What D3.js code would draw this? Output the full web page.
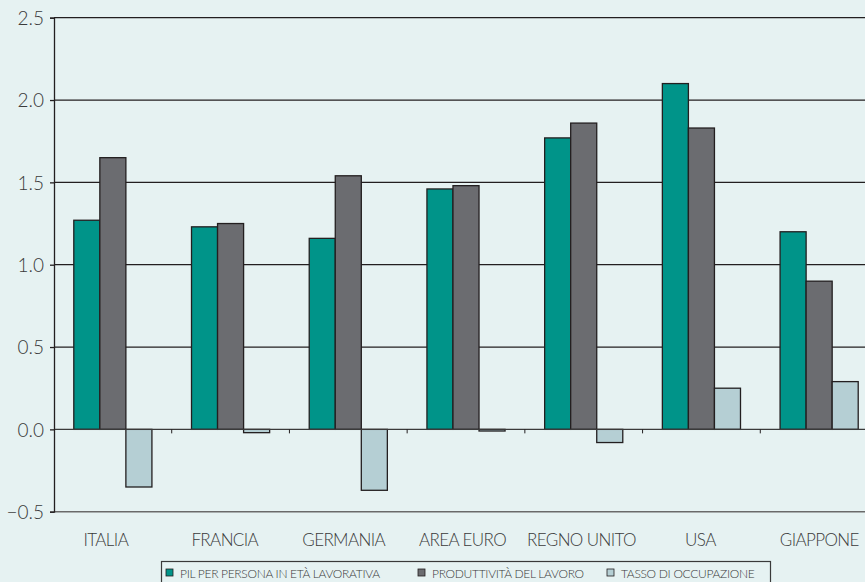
<!DOCTYPE html>
<html>
<head>
<meta charset="utf-8">
<script src="https://cdn.jsdelivr.net/npm/d3@7"></script>
<style>
  html, body { margin: 0; padding: 0; background: #e6f2f2; }
  svg { display: block; }
  text { font-family: Lato, "Open Sans", sans-serif; font-weight: 300; fill: #3a3a3a; }
</style>
</head>
<body>
<svg id="chart" width="865" height="582"></svg>
<script>
// Data
const countries = ['ITALIA', 'FRANCIA', 'GERMANIA', 'AREA EURO', 'REGNO UNITO', 'USA', 'GIAPPONE'];
const seriesNames = ['PIL PER PERSONA IN ETÀ LAVORATIVA', 'PRODUTTIVITÀ DEL LAVORO', 'TASSO DI OCCUPAZIONE'];
const pil = [1.27, 1.23, 1.16, 1.46, 1.77, 2.10, 1.20];
const produttivita = [1.65, 1.25, 1.54, 1.48, 1.86, 1.83, 0.90];
const occupazione = [-0.35, -0.02, -0.37, -0.01, -0.08, 0.25, 0.29];
const yTicks = [-0.5, 0.0, 0.5, 1.0, 1.5, 2.0, 2.5];

// Styles
const colors = ['#009489', '#6b6c70', '#b5cfd4'];
const ink = '#231f20';

const svg = d3.select('#chart');
const values = [pil, produttivita, occupazione];

const x0 = d3.scaleBand().domain(countries).range([54, 878]).padding(0);
const x1 = d3.scaleBand().domain(d3.range(seriesNames.length))
    .range([0, x0.bandwidth()]).paddingInner(0).paddingOuter(0.76);
const y = d3.scaleLinear().domain([-0.5, 2.5]).range([511.7, 17.7]);

// gridlines
svg.append('g')
    .selectAll('line')
    .data(yTicks.filter(d => d > 0))
    .join('line')
    .attr('x1', 54).attr('x2', 865)
    .attr('y1', d => y(d)).attr('y2', d => y(d))
    .attr('stroke', ink).attr('stroke-width', 1.3);

// bars
const groups = svg.append('g')
    .selectAll('g')
    .data(countries)
    .join('g')
    .attr('transform', d => `translate(${x0(d)},0)`);

groups.selectAll('rect')
    .data((c, i) => values.map((s, k) => ({ k, v: s[i] })))
    .join('rect')
    .attr('x', d => x1(d.k))
    .attr('width', x1.bandwidth())
    .attr('y', d => y(Math.max(0, d.v)))
    .attr('height', d => Math.abs(y(d.v) - y(0)))
    .attr('fill', d => colors[d.k])
    .attr('stroke', ink)
    .attr('stroke-width', 1.3);

// zero line and category ticks
svg.append('line')
    .attr('x1', 54).attr('x2', 865)
    .attr('y1', y(0)).attr('y2', y(0))
    .attr('stroke', '#3a3a3a').attr('stroke-width', 1.3);

svg.append('g')
    .selectAll('line')
    .data(countries.slice(1))
    .join('line')
    .attr('x1', d => x0(d)).attr('x2', d => x0(d))
    .attr('y1', y(0)).attr('y2', y(0) + 4)
    .attr('stroke', ink).attr('stroke-width', 1);

// bottom line
svg.append('line')
    .attr('x1', 54).attr('x2', 865)
    .attr('y1', y(-0.5)).attr('y2', y(-0.5))
    .attr('stroke', '#6a6a6a').attr('stroke-width', 1.6);

// y axis
const yAxis = svg.append('g')
    .attr('transform', 'translate(54,0)')
    .call(d3.axisLeft(y).tickValues(yTicks).tickFormat(d3.format('.1f')).tickSize(4).tickPadding(6));
yAxis.select('.domain').attr('stroke', ink).attr('stroke-width', 1.3);
yAxis.selectAll('.tick line').attr('stroke', ink).attr('stroke-width', 1.3);
yAxis.selectAll('.tick text')
    .attr('font-family', null)
    .style('font-size', '19px')
    .style('fill', '#3a3a3a')
    .attr('dy', '0.36em');

// category labels
svg.append('g')
    .selectAll('text')
    .data(countries)
    .join('text')
    .attr('x', (d, i) => x0(d) + x0.bandwidth() / 2 - 7 + i * 1.2)
    .attr('y', 546)
    .attr('text-anchor', 'middle')
    .style('font-size', '17px')
    .style('letter-spacing', '-0.6px')
    .text(d => d);

// legend
const legendX = [166, 418, 607];
const legend = svg.append('g');
legend.append('rect')
    .attr('x', 161.5).attr('y', 561.5)
    .attr('width', 609).attr('height', 30)
    .attr('fill', 'none')
    .attr('stroke', '#3a3a3a').attr('stroke-width', 1.2);

const items = legend.selectAll('g')
    .data(seriesNames)
    .join('g')
    .attr('transform', (d, i) => `translate(${legendX[i]},568)`);
items.append('rect')
    .attr('width', 7).attr('height', 7).attr('y', 1)
    .attr('fill', (d, i) => colors[i])
    .attr('stroke', ink).attr('stroke-width', 0.8);
items.append('text')
    .attr('x', 14).attr('y', 9.5)
    .style('font-size', '12px')
    .style('letter-spacing', '-0.3px')
    .text(d => d);
</script>
</body>
</html>
